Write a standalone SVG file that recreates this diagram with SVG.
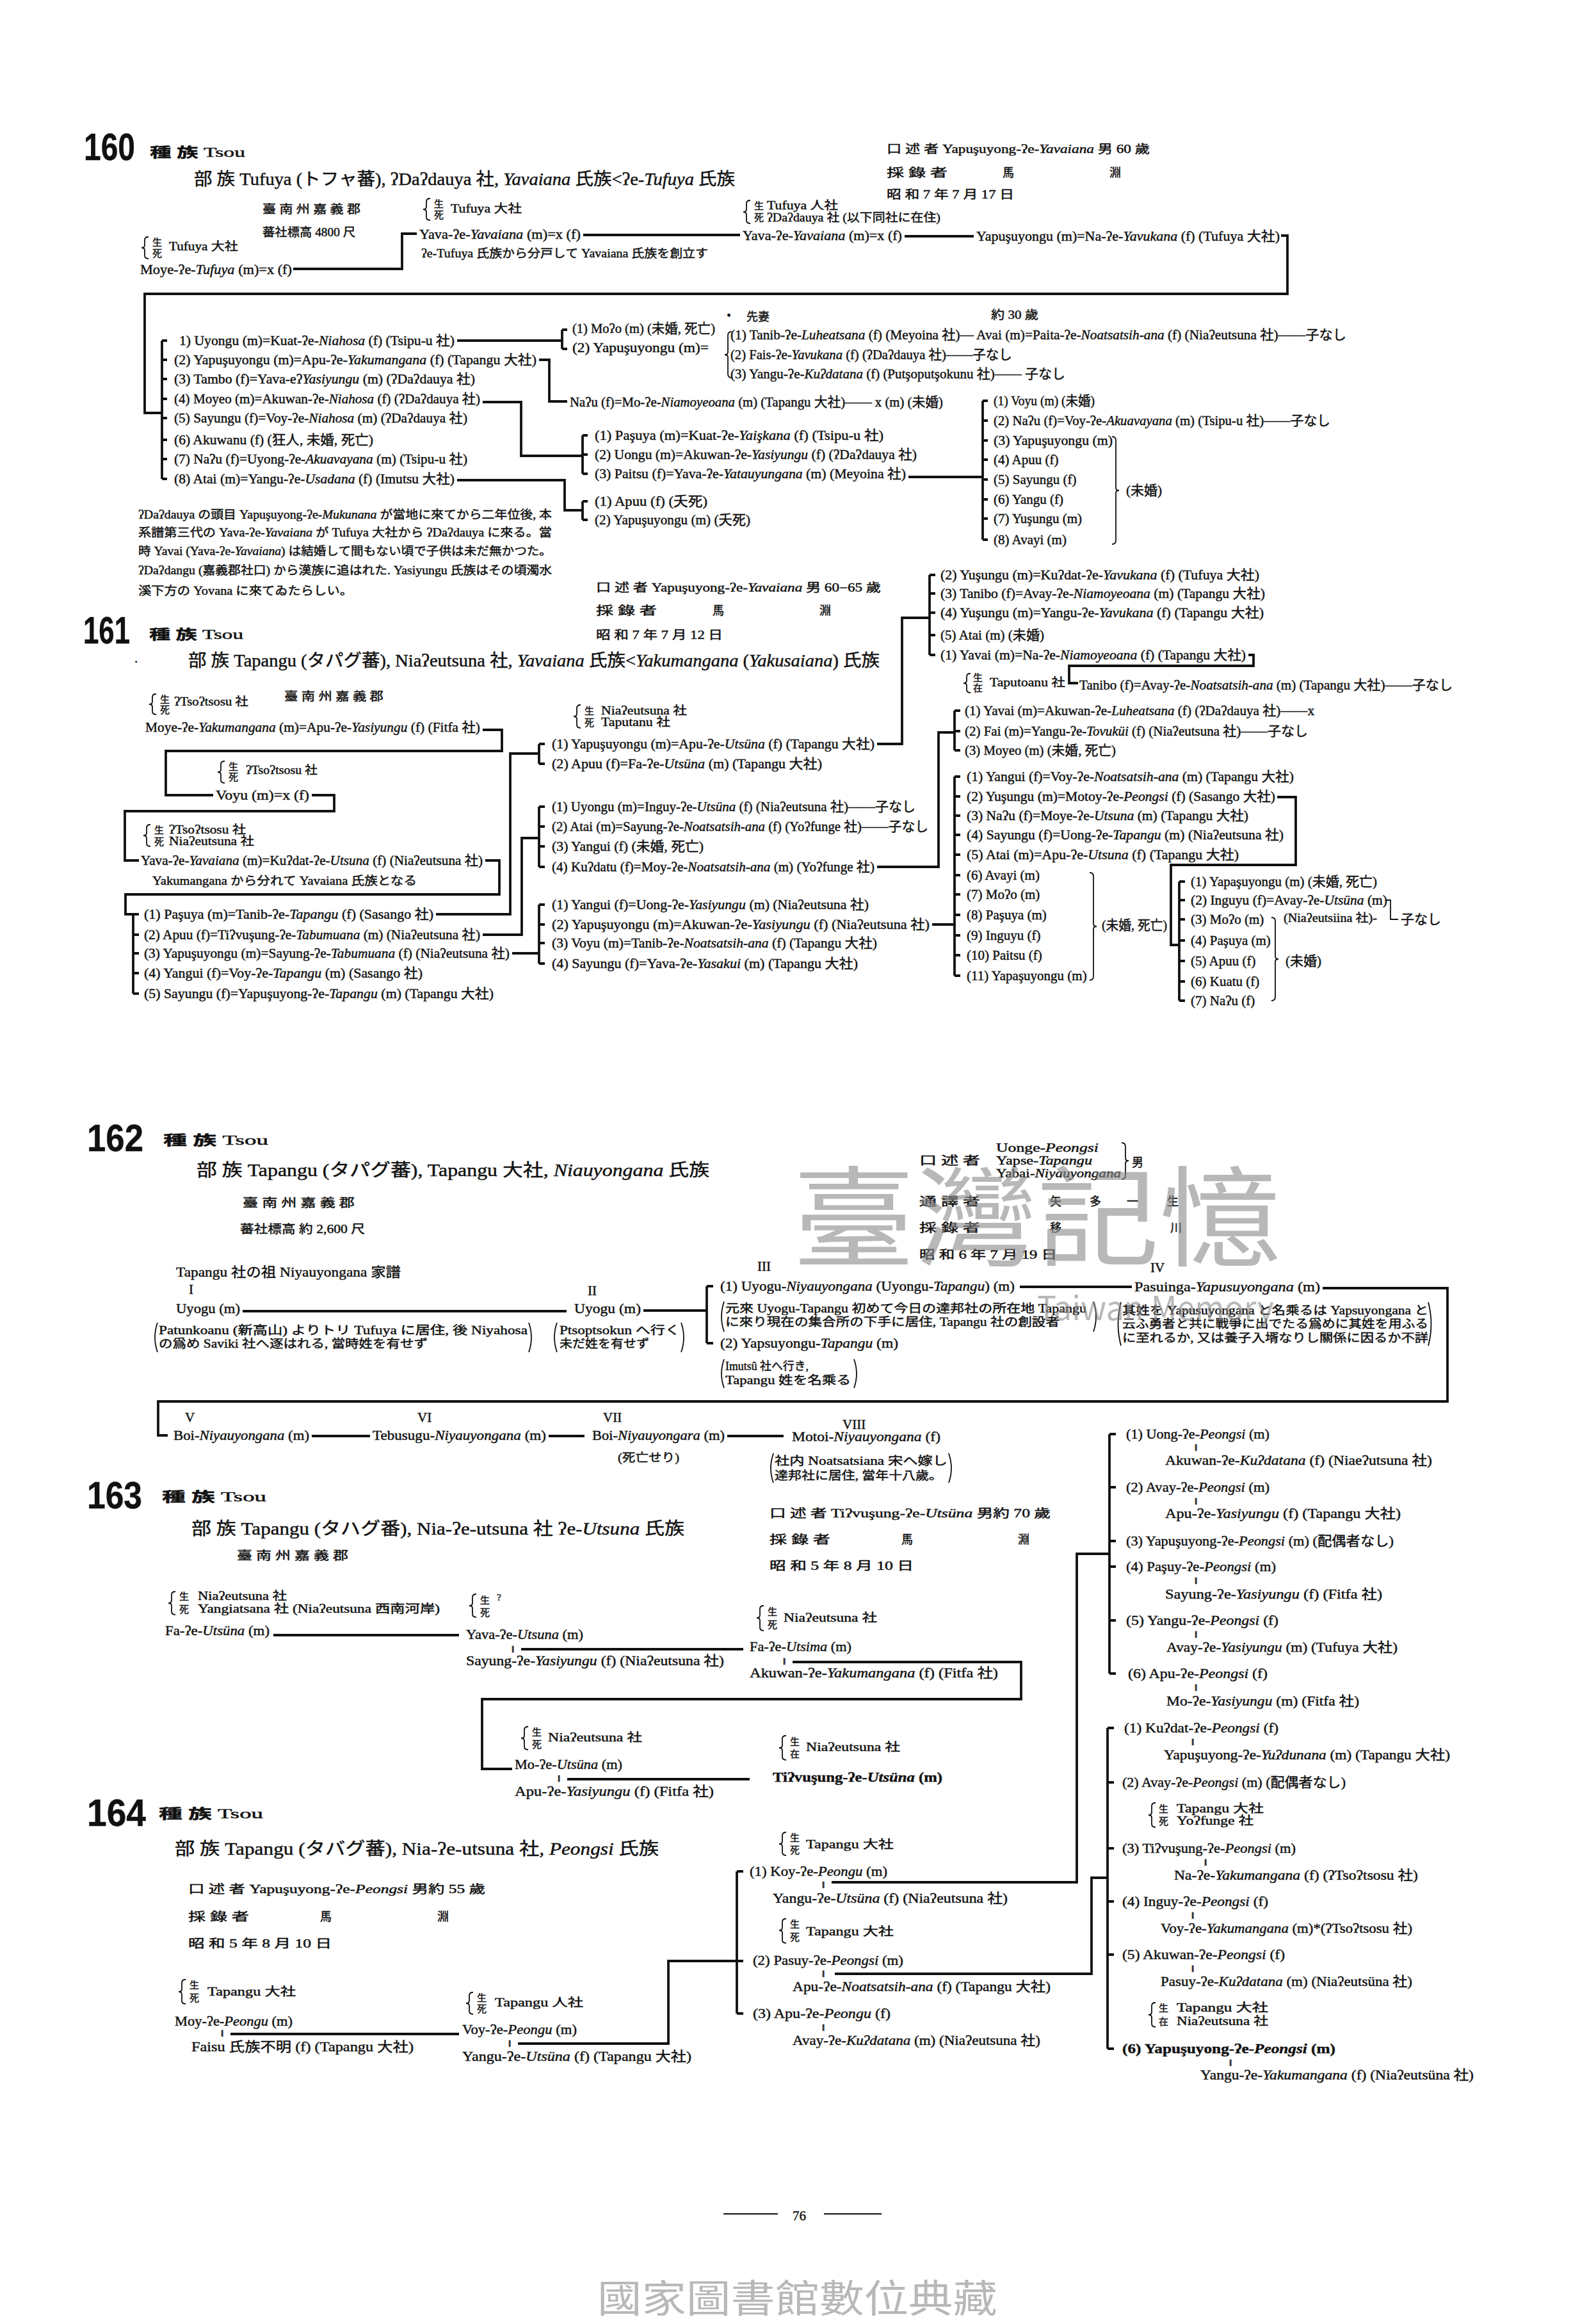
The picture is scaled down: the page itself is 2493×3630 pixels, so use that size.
<svg xmlns="http://www.w3.org/2000/svg" width="2493" height="3630" viewBox="0 0 2493 3630">
<style>
.t{font-family:"Liberation Serif","DejaVu Serif","Noto Sans CJK JP",serif;font-size:21px;fill:#111;stroke:#111;stroke-width:0.45px}
.s{font-size:18px}
.h{font-size:27px}
.k{font-size:15px}
.n{font-family:"Liberation Sans","DejaVu Sans",sans-serif;font-weight:bold;font-size:60px}
.i{font-style:italic}
.bd{font-weight:bold}
.l{fill:none;stroke:#111;stroke-width:3.8}
.b{fill:none;stroke:#111;stroke-width:1.8}
.wm{font-family:"Noto Sans CJK TC","Noto Sans CJK JP",sans-serif;fill:#8a8a8a;opacity:0.6}
</style>
<rect width="2493" height="3630" fill="#fff"/>

<!-- ============ 160 ============ -->
<g id="s160-title">
<text class="t n" x="131" y="250" textLength="80" lengthAdjust="spacingAndGlyphs">160</text>
<text class="t" x="234" y="245" textLength="149" lengthAdjust="spacingAndGlyphs"><tspan class="bd">種 族</tspan>  Tsou</text>
<text class="t h" x="303" y="289" textLength="845" lengthAdjust="spacingAndGlyphs">部 族  Tufuya (トフャ蕃), ʔDaʔdauya 社, <tspan class="i">Yavaiana</tspan> 氏族&lt;ʔe-<tspan class="i">Tufuya</tspan> 氏族</text>
<text class="t s" x="410" y="333" textLength="153" lengthAdjust="spacingAndGlyphs">臺 南 州 嘉 義 郡</text>
<text class="t s" x="410" y="369" textLength="145" lengthAdjust="spacingAndGlyphs">蕃社標高 4800 尺</text>
</g>
<g id="s160-info">
<text class="t s" x="1385" y="239" textLength="411" lengthAdjust="spacingAndGlyphs">口 述 者  Yapuşuyong-ʔe-<tspan class="i">Yavaiana</tspan>  男 60 歲</text>
<text class="t s" x="1385" y="276" textLength="95" lengthAdjust="spacingAndGlyphs">採 錄 者</text>
<text class="t s" x="1566" y="276">馬</text><text class="t s" x="1733" y="276">淵</text>
<text class="t s" x="1385" y="310" textLength="199" lengthAdjust="spacingAndGlyphs">昭 和 7 年 7 月 17 日</text>
</g>
<g id="n160-moye">
<path class="b" d="M232,370 Q226,370 226,375 V383 Q226,387 221,387 Q226,387 226,391 V399 Q226,404 232,404"/>
<text class="t k" x="238" y="384">生</text><text class="t k" x="238" y="401">死</text>
<text class="t s" x="264" y="391" textLength="108" lengthAdjust="spacingAndGlyphs">Tufuya 大社</text>
<text class="t" x="219" y="428" textLength="237" lengthAdjust="spacingAndGlyphs">Moye-ʔe-<tspan class="i">Tufuya</tspan> (m)=x (f)</text>
</g>
<g id="n160-yava1">
<path class="b" d="M672,310 Q666,310 666,315 V323 Q666,327 661,327 Q666,327 666,331 V339 Q666,344 672,344"/>
<text class="t k" x="678" y="324">生</text><text class="t k" x="678" y="341">死</text>
<text class="t s" x="704" y="332" textLength="111" lengthAdjust="spacingAndGlyphs">Tufuya 大社</text>
<text class="t" x="655" y="373" textLength="252" lengthAdjust="spacingAndGlyphs">Yava-ʔe-<tspan class="i">Yavaiana</tspan> (m)=x (f)</text>
<text class="t s" x="658" y="402" textLength="448" lengthAdjust="spacingAndGlyphs">ʔe-Tufuya 氏族から分戸して Yavaiana 氏族を創立す</text>
</g>
<g id="n160-yava2">
<path class="b" d="M1172,313 Q1166,313 1166,318 V327 Q1166,331 1161,331 Q1166,331 1166,335 V344 Q1166,349 1172,349"/>
<text class="t k" x="1178" y="327">生</text><text class="t k" x="1178" y="345">死</text>
<text class="t s" x="1198" y="327" textLength="111" lengthAdjust="spacingAndGlyphs">Tufuya 人社</text>
<text class="t s" x="1198" y="346" textLength="271" lengthAdjust="spacingAndGlyphs">ʔDaʔdauya 社 (以下同社に在住)</text>
<text class="t" x="1160" y="375" textLength="249" lengthAdjust="spacingAndGlyphs">Yava-ʔe-<tspan class="i">Yavaiana</tspan> (m)=x (f)</text>
</g>
<g id="n160-yapu">
<text class="t" x="1525" y="376" textLength="474" lengthAdjust="spacingAndGlyphs">Yapuşuyongu (m)=Na-ʔe-<tspan class="i">Yavukana</tspan> (f) (Tufuya 大社)</text>
</g>
<g id="n160-children">
<text class="t" x="280" y="539" textLength="430" lengthAdjust="spacingAndGlyphs">1) Uyongu (m)=Kuat-ʔe-<tspan class="i">Niahosa</tspan> (f) (Tsipu-u 社)</text>
<text class="t" x="272" y="569" textLength="566" lengthAdjust="spacingAndGlyphs">(2) Yapuşuyongu (m)=Apu-ʔe-<tspan class="i">Yakumangana</tspan> (f) (Tapangu 大社)</text>
<text class="t" x="272" y="599" textLength="470" lengthAdjust="spacingAndGlyphs">(3) Tambo (f)=Yava-eʔ<tspan class="i">Yasiyungu</tspan> (m) (ʔDaʔdauya 社)</text>
<text class="t" x="272" y="630" textLength="478" lengthAdjust="spacingAndGlyphs">(4) Moyeo (m)=Akuwan-ʔe-<tspan class="i">Niahosa</tspan> (f) (ʔDaʔdauya 社)</text>
<text class="t" x="272" y="660" textLength="458" lengthAdjust="spacingAndGlyphs">(5) Sayungu (f)=Voy-ʔe-<tspan class="i">Niahosa</tspan> (m) (ʔDaʔdauya 社)</text>
<text class="t" x="272" y="694" textLength="311" lengthAdjust="spacingAndGlyphs">(6) Akuwanu (f) (狂人, 未婚, 死亡)</text>
<text class="t" x="272" y="724" textLength="458" lengthAdjust="spacingAndGlyphs">(7) Naʔu (f)=Uyong-ʔe-<tspan class="i">Akuavayana</tspan> (m) (Tsipu-u 社)</text>
<text class="t" x="272" y="755" textLength="438" lengthAdjust="spacingAndGlyphs">(8) Atai (m)=Yangu-ʔe-<tspan class="i">Usadana</tspan> (f) (Imutsu 大社)</text>
</g>
<g id="n160-moo">
<text class="t" x="894" y="520" textLength="223" lengthAdjust="spacingAndGlyphs">(1) Moʔo (m) (未婚, 死亡)</text>
<text class="t" x="894" y="550" textLength="213" lengthAdjust="spacingAndGlyphs">(2) Yapuşuyongu (m)=</text>
<text class="t" x="1128" y="500">・</text>
<text class="t s" x="1166" y="501">先妻</text>
<text class="t s" x="1548" y="498" textLength="74" lengthAdjust="spacingAndGlyphs">約 30 歲</text>
<path class="b" d="M1143,518 Q1137,518 1137,524 V550 Q1137,554 1132,554 Q1137,554 1137,558 V584 Q1137,590 1143,590"/>
<text class="t" x="1141" y="530" textLength="962" lengthAdjust="spacingAndGlyphs">(1) Tanib-ʔe-<tspan class="i">Luheatsana</tspan> (f) (Meyoina 社)— Avai (m)=Paita-ʔe-<tspan class="i">Noatsatsih-ana</tspan> (f) (Niaʔeutsuna 社)——子なし</text>
<text class="t" x="1141" y="561" textLength="440" lengthAdjust="spacingAndGlyphs">(2) Fais-ʔe-<tspan class="i">Yavukana</tspan> (f) (ʔDaʔdauya 社)——子なし</text>
<text class="t" x="1141" y="591" textLength="523" lengthAdjust="spacingAndGlyphs">(3) Yangu-ʔe-<tspan class="i">Kuʔdatana</tspan> (f) (Putşoputşokunu 社)—— 子なし</text>
</g>
<g id="n160-nau">
<text class="t" x="890" y="635" textLength="583" lengthAdjust="spacingAndGlyphs">Naʔu (f)=Mo-ʔe-<tspan class="i">Niamoyeoana</tspan> (m) (Tapangu 大社)—— x (m) (未婚)</text>
</g>
<g id="n160-pasuya">
<text class="t" x="929" y="687" textLength="451" lengthAdjust="spacingAndGlyphs">(1) Paşuya (m)=Kuat-ʔe-<tspan class="i">Yaişkana</tspan> (f) (Tsipu-u 社)</text>
<text class="t" x="929" y="717" textLength="503" lengthAdjust="spacingAndGlyphs">(2) Uongu (m)=Akuwan-ʔe-<tspan class="i">Yasiyungu</tspan> (f) (ʔDaʔdauya 社)</text>
<text class="t" x="929" y="747" textLength="486" lengthAdjust="spacingAndGlyphs">(3) Paitsu (f)=Yava-ʔe-<tspan class="i">Yatauyungana</tspan> (m) (Meyoina 社)</text>
</g>
<g id="n160-apuu">
<text class="t" x="929" y="790" textLength="176" lengthAdjust="spacingAndGlyphs">(1) Apuu (f) (夭死)</text>
<text class="t" x="929" y="819" textLength="243" lengthAdjust="spacingAndGlyphs">(2) Yapuşuyongu (m) (夭死)</text>
</g>
<g id="n160-voyu">
<text class="t" x="1552" y="633" textLength="158" lengthAdjust="spacingAndGlyphs">(1) Voyu (m) (未婚)</text>
<text class="t" x="1552" y="664" textLength="526" lengthAdjust="spacingAndGlyphs">(2) Naʔu (f)=Voy-ʔe-<tspan class="i">Akuavayana</tspan> (m) (Tsipu-u 社)——子なし</text>
<text class="t" x="1552" y="695" textLength="186" lengthAdjust="spacingAndGlyphs">(3) Yapuşuyongu (m)</text>
<text class="t" x="1552" y="725">(4) Apuu (f)</text>
<text class="t" x="1552" y="756">(5) Sayungu (f)</text>
<text class="t" x="1552" y="787">(6) Yangu (f)</text>
<text class="t" x="1552" y="817">(7) Yuşungu (m)</text>
<text class="t" x="1552" y="850">(8) Avayi (m)</text>
<path class="b" d="M1737,682 Q1743,682 1743,688 V762 Q1743,766 1748,766 Q1743,766 1743,770 V844 Q1743,850 1737,850"/>
<text class="t" x="1759" y="773">(未婚)</text>
</g>
<g id="n160-note">
<text class="t s" x="216" y="810" textLength="646" lengthAdjust="spacingAndGlyphs">ʔDaʔdauya の頭目 Yapuşuyong-ʔe-<tspan class="i">Mukunana</tspan> が當地に來てから二年位後, 本</text>
<text class="t s" x="216" y="838" textLength="646" lengthAdjust="spacingAndGlyphs">系譜第三代の Yava-ʔe-<tspan class="i">Yavaiana</tspan> が Tufuya 大社から ʔDaʔdauya に來る。當</text>
<text class="t s" x="216" y="867" textLength="646" lengthAdjust="spacingAndGlyphs">時 Yavai (Yava-ʔe-<tspan class="i">Yavaiana</tspan>) は結婚して間もない頃で子供は未だ無かつた。</text>
<text class="t s" x="216" y="897" textLength="646" lengthAdjust="spacingAndGlyphs">ʔDaʔdangu (嘉義郡社口) から漢族に追はれた. Yasiyungu 氏族はその頃濁水</text>
<text class="t s" x="216" y="929" textLength="335" lengthAdjust="spacingAndGlyphs">溪下方の Yovana に來てゐたらしい。</text>
</g>

<!-- ============ 161 ============ -->
<g id="s161-info">
<text class="t s" x="931" y="924" textLength="445" lengthAdjust="spacingAndGlyphs">口 述 者  Yapuşuyong-ʔe-<tspan class="i">Yavaiana</tspan>  男 60−65 歲</text>
<text class="t s" x="931" y="960" textLength="95" lengthAdjust="spacingAndGlyphs">採 錄 者</text>
<text class="t s" x="1113" y="960">馬</text><text class="t s" x="1280" y="960">淵</text>
<text class="t s" x="931" y="998" textLength="198" lengthAdjust="spacingAndGlyphs">昭 和 7 年 7 月 12 日</text>
</g>
<g id="s161-title">
<text class="t n" x="130" y="1005" textLength="73" lengthAdjust="spacingAndGlyphs">161</text>
<text class="t" x="233" y="998" textLength="147" lengthAdjust="spacingAndGlyphs"><tspan class="bd">種 族</tspan>  Tsou</text>
<text class="t" x="210" y="1035">.</text>
<text class="t h" x="294" y="1041" textLength="1080" lengthAdjust="spacingAndGlyphs">部 族  Tapangu (タパグ蕃), Niaʔeutsuna 社, <tspan class="i">Yavaiana</tspan> 氏族&lt;<tspan class="i">Yakumangana</tspan> (<tspan class="i">Yakusaiana</tspan>) 氏族</text>
<text class="t s" x="444" y="1094" textLength="155" lengthAdjust="spacingAndGlyphs">臺 南 州 嘉 義 郡</text>
</g>
<g id="n161-moye">
<path class="b" d="M244,1084 Q238,1084 238,1089 V1096 Q238,1100 233,1100 Q238,1100 238,1104 V1111 Q238,1116 244,1116"/>
<text class="t k" x="250" y="1098">生</text><text class="t k" x="250" y="1114">死</text>
<text class="t s" x="272" y="1102" textLength="116" lengthAdjust="spacingAndGlyphs">ʔTsoʔtsosu 社</text>
<text class="t" x="227" y="1143" textLength="523" lengthAdjust="spacingAndGlyphs">Moye-ʔe-<tspan class="i">Yakumangana</tspan> (m)=Apu-ʔe-<tspan class="i">Yasiyungu</tspan> (f) (Fitfa 社)</text>
</g>
<g id="n161-voyu">
<path class="b" d="M351,1189 Q345,1189 345,1194 V1202 Q345,1206 340,1206 Q345,1206 345,1210 V1218 Q345,1223 351,1223"/>
<text class="t k" x="357" y="1203">生</text><text class="t k" x="357" y="1219">死</text>
<text class="t s" x="384" y="1209" textLength="112" lengthAdjust="spacingAndGlyphs">ʔTsoʔtsosu 社</text>
<text class="t" x="337" y="1249" textLength="146" lengthAdjust="spacingAndGlyphs">Voyu (m)=x (f)</text>
</g>
<g id="n161-yava">
<path class="b" d="M235,1288 Q229,1288 229,1293 V1301 Q229,1305 224,1305 Q229,1305 229,1309 V1317 Q229,1322 235,1322"/>
<text class="t k" x="241" y="1302">生</text><text class="t k" x="241" y="1320">死</text>
<text class="t s" x="264" y="1302" textLength="120" lengthAdjust="spacingAndGlyphs">ʔTsoʔtsosu 社</text>
<text class="t s" x="264" y="1320" textLength="133" lengthAdjust="spacingAndGlyphs">Niaʔeutsuna 社</text>
<text class="t" x="220" y="1351" textLength="534" lengthAdjust="spacingAndGlyphs">Yava-ʔe-<tspan class="i">Yavaiana</tspan> (m)=Kuʔdat-ʔe-<tspan class="i">Utsuna</tspan> (f) (Niaʔeutsuna 社)</text>
<text class="t s" x="238" y="1382" textLength="413" lengthAdjust="spacingAndGlyphs">Yakumangana から分れて Yavaiana 氏族となる</text>
</g>
<g id="n161-children">
<text class="t" x="225" y="1435" textLength="452" lengthAdjust="spacingAndGlyphs">(1) Paşuya (m)=Tanib-ʔe-<tspan class="i">Tapangu</tspan> (f) (Sasango 社)</text>
<text class="t" x="225" y="1467" textLength="525" lengthAdjust="spacingAndGlyphs">(2) Apuu (f)=Tiʔvuşung-ʔe-<tspan class="i">Tabumuana</tspan> (m) (Niaʔeutsuna 社)</text>
<text class="t" x="225" y="1496" textLength="571" lengthAdjust="spacingAndGlyphs">(3) Yapuşuyongu (m)=Sayung-ʔe-<tspan class="i">Tabumuana</tspan> (f) (Niaʔeutsuna 社)</text>
<text class="t" x="225" y="1527" textLength="435" lengthAdjust="spacingAndGlyphs">(4) Yangui (f)=Voy-ʔe-<tspan class="i">Tapangu</tspan> (m) (Sasango 社)</text>
<text class="t" x="225" y="1559" textLength="546" lengthAdjust="spacingAndGlyphs">(5) Sayungu (f)=Yapuşuyong-ʔe-<tspan class="i">Tapangu</tspan> (m) (Tapangu 大社)</text>
</g>
<g id="n161-yapu">
<path class="b" d="M907,1101 Q901,1101 901,1106 V1115 Q901,1119 896,1119 Q901,1119 901,1123 V1132 Q901,1137 907,1137"/>
<text class="t k" x="913" y="1116">生</text><text class="t k" x="913" y="1134">死</text>
<text class="t s" x="939" y="1116" textLength="134" lengthAdjust="spacingAndGlyphs">Niaʔeutsuna 社</text>
<text class="t s" x="939" y="1134" textLength="108" lengthAdjust="spacingAndGlyphs">Taputanu 社</text>
<text class="t" x="862" y="1169" textLength="504" lengthAdjust="spacingAndGlyphs">(1) Yapuşuyongu (m)=Apu-ʔe-<tspan class="i">Utsüna</tspan> (f) (Tapangu 大社)</text>
<text class="t" x="862" y="1200" textLength="422" lengthAdjust="spacingAndGlyphs">(2) Apuu (f)=Fa-ʔe-<tspan class="i">Utsüna</tspan> (m) (Tapangu 大社)</text>
</g>
<g id="n161-uyongu">
<text class="t" x="862" y="1267" textLength="568" lengthAdjust="spacingAndGlyphs">(1) Uyongu (m)=Inguy-ʔe-<tspan class="i">Utsüna</tspan> (f) (Niaʔeutsuna 社)——子なし</text>
<text class="t" x="862" y="1298" textLength="588" lengthAdjust="spacingAndGlyphs">(2) Atai (m)=Sayung-ʔe-<tspan class="i">Noatsatsih-ana</tspan> (f) (Yoʔfunge 社)——子なし</text>
<text class="t" x="862" y="1329" textLength="237" lengthAdjust="spacingAndGlyphs">(3) Yangui (f) (未婚, 死亡)</text>
<text class="t" x="862" y="1361" textLength="504" lengthAdjust="spacingAndGlyphs">(4) Kuʔdatu (f)=Moy-ʔe-<tspan class="i">Noatsatsih-ana</tspan> (m) (Yoʔfunge 社)</text>
</g>
<g id="n161-yangu">
<text class="t" x="862" y="1420" textLength="495" lengthAdjust="spacingAndGlyphs">(1) Yangui (f)=Uong-ʔe-<tspan class="i">Yasiyungu</tspan> (m) (Niaʔeutsuna 社)</text>
<text class="t" x="862" y="1451" textLength="590" lengthAdjust="spacingAndGlyphs">(2) Yapuşuyongu (m)=Akuwan-ʔe-<tspan class="i">Yasiyungu</tspan> (f) (Niaʔeutsuna 社)</text>
<text class="t" x="862" y="1480" textLength="508" lengthAdjust="spacingAndGlyphs">(3) Voyu (m)=Tanib-ʔe-<tspan class="i">Noatsatsih-ana</tspan> (f) (Tapangu 大社)</text>
<text class="t" x="862" y="1512" textLength="478" lengthAdjust="spacingAndGlyphs">(4) Sayungu (f)=Yava-ʔe-<tspan class="i">Yasakui</tspan> (m) (Tapangu 大社)</text>
</g>
<g id="n161-yusungu">
<text class="t" x="1469" y="905" textLength="498" lengthAdjust="spacingAndGlyphs">(2) Yuşungu (m)=Kuʔdat-ʔe-<tspan class="i">Yavukana</tspan> (f) (Tufuya 大社)</text>
<text class="t" x="1469" y="934" textLength="507" lengthAdjust="spacingAndGlyphs">(3) Tanibo (f)=Avay-ʔe-<tspan class="i">Niamoyeoana</tspan> (m) (Tapangu 大社)</text>
<text class="t" x="1469" y="964" textLength="505" lengthAdjust="spacingAndGlyphs">(4) Yuşungu (m)=Yangu-ʔe-<tspan class="i">Yavukana</tspan> (f) (Tapangu 大社)</text>
<text class="t" x="1469" y="999" textLength="162" lengthAdjust="spacingAndGlyphs">(5) Atai (m) (未婚)</text>
<text class="t" x="1469" y="1030" textLength="477" lengthAdjust="spacingAndGlyphs">(1) Yavai (m)=Na-ʔe-<tspan class="i">Niamoyeoana</tspan> (f) (Tapangu 大社)</text>
</g>
<g id="n161-tanibo">
<path class="b" d="M1516,1052 Q1510,1052 1510,1057 V1063 Q1510,1067 1505,1067 Q1510,1067 1510,1071 V1077 Q1510,1082 1516,1082"/>
<text class="t k" x="1520" y="1064">生</text><text class="t k" x="1520" y="1080">在</text>
<text class="t s" x="1546" y="1072" textLength="118" lengthAdjust="spacingAndGlyphs">Taputoanu 社</text>
<text class="t" x="1686" y="1077" textLength="583" lengthAdjust="spacingAndGlyphs">Tanibo (f)=Avay-ʔe-<tspan class="i">Noatsatsih-ana</tspan> (m) (Tapangu 大社)——子なし</text>
</g>
<g id="n161-yavai">
<text class="t" x="1507" y="1117" textLength="546" lengthAdjust="spacingAndGlyphs">(1) Yavai (m)=Akuwan-ʔe-<tspan class="i">Luheatsana</tspan> (f) (ʔDaʔdauya 社)——x</text>
<text class="t" x="1507" y="1149" textLength="536" lengthAdjust="spacingAndGlyphs">(2) Fai (m)=Yangu-ʔe-<tspan class="i">Tovuküi</tspan> (f) (Niaʔeutsuna 社)——子なし</text>
<text class="t" x="1507" y="1179" textLength="236" lengthAdjust="spacingAndGlyphs">(3) Moyeo (m) (未婚, 死亡)</text>
</g>
<g id="n161-eleven">
<text class="t" x="1510" y="1220" textLength="511" lengthAdjust="spacingAndGlyphs">(1) Yangui (f)=Voy-ʔe-<tspan class="i">Noatsatsih-ana</tspan> (m) (Tapangu 大社)</text>
<text class="t" x="1510" y="1251" textLength="482" lengthAdjust="spacingAndGlyphs">(2) Yuşungu (m)=Motoy-ʔe-<tspan class="i">Peongsi</tspan> (f) (Sasango 大社)</text>
<text class="t" x="1510" y="1281" textLength="440" lengthAdjust="spacingAndGlyphs">(3) Naʔu (f)=Moye-ʔe-<tspan class="i">Utsuna</tspan> (m) (Tapangu 大社)</text>
<text class="t" x="1510" y="1311" textLength="495" lengthAdjust="spacingAndGlyphs">(4) Sayungu (f)=Uong-ʔe-<tspan class="i">Tapangu</tspan> (m) (Niaʔeutsuna 社)</text>
<text class="t" x="1510" y="1342" textLength="425" lengthAdjust="spacingAndGlyphs">(5) Atai (m)=Apu-ʔe-<tspan class="i">Utsuna</tspan> (f) (Tapangu 大社)</text>
<text class="t" x="1510" y="1374">(6) Avayi (m)</text>
<text class="t" x="1510" y="1404">(7) Moʔo (m)</text>
<text class="t" x="1510" y="1436">(8) Paşuya (m)</text>
<text class="t" x="1510" y="1468">(9) Inguyu (f)</text>
<text class="t" x="1510" y="1499">(10) Paitsu (f)</text>
<text class="t" x="1510" y="1531">(11) Yapaşuyongu (m)</text>
<path class="b" d="M1702,1363 Q1708,1363 1708,1369 V1443 Q1708,1447 1713,1447 Q1708,1447 1708,1451 V1525 Q1708,1531 1702,1531"/>
<text class="t" x="1721" y="1452" textLength="102" lengthAdjust="spacingAndGlyphs">(未婚, 死亡)</text>
</g>
<g id="n161-yapa">
<text class="t" x="1860" y="1384" textLength="291" lengthAdjust="spacingAndGlyphs">(1) Yapaşuyongu (m) (未婚, 死亡)</text>
<text class="t" x="1860" y="1413" textLength="307" lengthAdjust="spacingAndGlyphs">(2) Inguyu (f)=Avay-ʔe-<tspan class="i">Utsüna</tspan> (m)</text>
<text class="t s" x="2005" y="1440" textLength="146" lengthAdjust="spacingAndGlyphs">(Niaʔeutsiina 社)-</text>
<text class="t" x="2188" y="1443">子なし</text>
<text class="t" x="1860" y="1443">(3) Moʔo (m)</text>
<text class="t" x="1860" y="1476">(4) Paşuya (m)</text>
<text class="t" x="1860" y="1508">(5) Apuu (f)</text>
<text class="t" x="1860" y="1540">(6) Kuatu (f)</text>
<text class="t" x="1860" y="1570">(7) Naʔu (f)</text>
<path class="b" d="M1986,1433 Q1992,1433 1992,1439 V1494 Q1992,1498 1997,1498 Q1992,1498 1992,1502 V1557 Q1992,1563 1986,1563"/>
<text class="t" x="2008" y="1508">(未婚)</text>
</g>

<!-- ============ 162 ============ -->
<g id="s162-title">
<text class="t n" x="136" y="1798" textLength="88" lengthAdjust="spacingAndGlyphs">162</text>
<text class="t" x="255" y="1788" textLength="164" lengthAdjust="spacingAndGlyphs"><tspan class="bd">種 族</tspan>  Tsou</text>
<text class="t h" x="307" y="1837" textLength="801" lengthAdjust="spacingAndGlyphs">部 族  Tapangu (タパグ蕃), Tapangu 大社, <tspan class="i">Niauyongana</tspan> 氏族</text>
<text class="t s" x="379" y="1885" textLength="175" lengthAdjust="spacingAndGlyphs">臺 南 州 嘉 義 郡</text>
<text class="t s" x="375" y="1926" textLength="195" lengthAdjust="spacingAndGlyphs">蕃社標高 約 2,600 尺</text>
<text class="t" x="275" y="1994" textLength="351" lengthAdjust="spacingAndGlyphs">Tapangu 社の祖 Niyauyongana 家譜</text>
</g>
<g id="s162-info">
<text class="t s" x="1436" y="1819" textLength="95" lengthAdjust="spacingAndGlyphs">口 述 者</text>
<text class="t s" x="1556" y="1799" textLength="160" lengthAdjust="spacingAndGlyphs">Uonge-<tspan class="i">Peongsi</tspan></text>
<text class="t s" x="1556" y="1819" textLength="150" lengthAdjust="spacingAndGlyphs">Yapse-<tspan class="i">Tapangu</tspan></text>
<text class="t s" x="1556" y="1839" textLength="195" lengthAdjust="spacingAndGlyphs">Yabai-<tspan class="i">Niyauyongana</tspan></text>
<path class="b" d="M1752,1785 Q1758,1785 1758,1791 V1809 Q1758,1813 1763,1813 Q1758,1813 1758,1817 V1836 Q1758,1842 1752,1842"/>
<text class="t s" x="1768" y="1822">男</text>
<text class="t s" x="1436" y="1883" textLength="95" lengthAdjust="spacingAndGlyphs">通 譯 者</text>
<text class="t s" x="1640" y="1883">矢</text><text class="t s" x="1702" y="1883">多</text><text class="t s" x="1760" y="1883">一</text><text class="t s" x="1823" y="1883">生</text>
<text class="t s" x="1436" y="1924" textLength="95" lengthAdjust="spacingAndGlyphs">採 錄 者</text>
<text class="t s" x="1640" y="1924">移</text><text class="t s" x="1828" y="1924">川</text>
<text class="t s" x="1436" y="1966" textLength="215" lengthAdjust="spacingAndGlyphs">昭 和 6 年 7 月 19 日</text>
</g>
<g id="n162-I">
<text class="t" x="295" y="2021">I</text>
<text class="t" x="275" y="2051" textLength="100" lengthAdjust="spacingAndGlyphs">Uyogu (m)</text>
<path class="b" d="M246,2066 Q238,2089 246,2112 M826,2066 Q834,2089 826,2112"/>
<text class="t s" x="248" y="2084" textLength="576" lengthAdjust="spacingAndGlyphs">Patunkoanu (新高山) よりトリ Tufuya に居住, 後 Niyahosa</text>
<text class="t s" x="248" y="2105" textLength="420" lengthAdjust="spacingAndGlyphs">の爲め Saviki 社へ逐はれる, 當時姓を有せず</text>
</g>
<g id="n162-II">
<text class="t" x="918" y="2023">II</text>
<text class="t" x="897" y="2051" textLength="104" lengthAdjust="spacingAndGlyphs">Uyogu (m)</text>
<path class="b" d="M870,2066 Q862,2089 870,2112 M1064,2066 Q1072,2089 1064,2112"/>
<text class="t s" x="874" y="2084" textLength="188" lengthAdjust="spacingAndGlyphs">Ptsoptsokun へ行く</text>
<text class="t s" x="874" y="2105" textLength="140" lengthAdjust="spacingAndGlyphs">未だ姓を有せず</text>
</g>
<g id="n162-III">
<text class="t" x="1183" y="1985">III</text>
<text class="t" x="1125" y="2016" textLength="460" lengthAdjust="spacingAndGlyphs">(1) Uyogu-<tspan class="i">Niyauyongana</tspan> (Uyongu-<tspan class="i">Tapangu</tspan>) (m)</text>
<path class="b" d="M1131,2033 Q1123,2057 1131,2080 M1708,2033 Q1716,2057 1708,2080"/>
<text class="t s" x="1133" y="2050" textLength="564" lengthAdjust="spacingAndGlyphs">元來 Uyogu-Tapangu 初めて今日の達邦社の所在地 Tapangu</text>
<text class="t s" x="1133" y="2071" textLength="522" lengthAdjust="spacingAndGlyphs">に來り現在の集合所の下手に居住, Tapangu 社の創設者</text>
<text class="t" x="1125" y="2105" textLength="278" lengthAdjust="spacingAndGlyphs">(2) Yapsuyongu-<tspan class="i">Tapangu</tspan> (m)</text>
<path class="b" d="M1131,2123 Q1123,2146 1131,2168 M1334,2123 Q1342,2146 1334,2168"/>
<text class="t s" x="1133" y="2140" textLength="130" lengthAdjust="spacingAndGlyphs">Imutsû 社へ行き,</text>
<text class="t s" x="1133" y="2162" textLength="196" lengthAdjust="spacingAndGlyphs">Tapangu 姓を名乘る</text>
</g>
<g id="n162-IV">
<text class="t" x="1797" y="1987">IV</text>
<text class="t" x="1772" y="2017" textLength="290" lengthAdjust="spacingAndGlyphs">Pasuinga-<tspan class="i">Yapusuyongana</tspan> (m)</text>
<path class="b" d="M1751,2034 Q1742,2068 1751,2102 M2231,2034 Q2240,2068 2231,2102"/>
<text class="t s" x="1753" y="2053" textLength="478" lengthAdjust="spacingAndGlyphs">其姓を Yapusuyongana と名乘るは Yapsuyongana と</text>
<text class="t s" x="1753" y="2074" textLength="478" lengthAdjust="spacingAndGlyphs">云ふ勇者と共に戰爭に出でたる爲めに其姓を用ふる</text>
<text class="t s" x="1753" y="2096" textLength="478" lengthAdjust="spacingAndGlyphs">に至れるか, 又は養子入壻なりし關係に因るか不詳</text>
</g>
<g id="n162-V">
<text class="t" x="289" y="2221">V</text>
<text class="t" x="271" y="2249" textLength="212" lengthAdjust="spacingAndGlyphs">Boi-<tspan class="i">Niyauyongana</tspan> (m)</text>
</g>
<g id="n162-VI">
<text class="t" x="652" y="2221">VI</text>
<text class="t" x="582" y="2249" textLength="271" lengthAdjust="spacingAndGlyphs">Tebusugu-<tspan class="i">Niyauyongana</tspan> (m)</text>
</g>
<g id="n162-VII">
<text class="t" x="942" y="2221">VII</text>
<text class="t" x="925" y="2249" textLength="207" lengthAdjust="spacingAndGlyphs">Boi-<tspan class="i">Niyauyongara</tspan> (m)</text>
<text class="t s" x="965" y="2283" textLength="96" lengthAdjust="spacingAndGlyphs">(死亡せり)</text>
</g>
<g id="n162-VIII">
<text class="t" x="1316" y="2232">VIII</text>
<text class="t" x="1237" y="2251" textLength="232" lengthAdjust="spacingAndGlyphs">Motoi-<tspan class="i">Niyauyongana</tspan> (f)</text>
<path class="b" d="M1208,2270 Q1200,2293 1208,2316 M1482,2270 Q1490,2293 1482,2316"/>
<text class="t s" x="1210" y="2288" textLength="270" lengthAdjust="spacingAndGlyphs">社内 Noatsatsiana 宋へ嫁し</text>
<text class="t s" x="1210" y="2311" textLength="262" lengthAdjust="spacingAndGlyphs">達邦社に居住, 當年十八歲。</text>
</g>

<!-- ============ 163 ============ -->
<g id="s163-title">
<text class="t n" x="136" y="2356" textLength="86" lengthAdjust="spacingAndGlyphs">163</text>
<text class="t" x="253" y="2345" textLength="163" lengthAdjust="spacingAndGlyphs"><tspan class="bd">種 族</tspan>  Tsou</text>
<text class="t h" x="299" y="2397" textLength="770" lengthAdjust="spacingAndGlyphs">部 族  Tapangu (タハグ番), Nia-ʔe-utsuna 社 ʔe-<tspan class="i">Utsuna</tspan> 氏族</text>
<text class="t s" x="370" y="2436" textLength="174" lengthAdjust="spacingAndGlyphs">臺 南 州 嘉 義 郡</text>
</g>
<g id="s163-info">
<text class="t s" x="1202" y="2370" textLength="439" lengthAdjust="spacingAndGlyphs">口 述 者  Tiʔvuşung-ʔe-<tspan class="i">Utsüna</tspan>  男約 70 歲</text>
<text class="t s" x="1202" y="2411" textLength="95" lengthAdjust="spacingAndGlyphs">採 錄 者</text>
<text class="t s" x="1408" y="2411">馬</text><text class="t s" x="1590" y="2411">淵</text>
<text class="t s" x="1202" y="2452" textLength="225" lengthAdjust="spacingAndGlyphs">昭 和 5 年 8 月 10 日</text>
</g>
<g id="n163-fa1">
<path class="b" d="M274,2486 Q268,2486 268,2491 V2500 Q268,2504 263,2504 Q268,2504 268,2508 V2517 Q268,2522 274,2522"/>
<text class="t k" x="280" y="2499">生</text><text class="t k" x="280" y="2519">死</text>
<text class="t s" x="309" y="2499" textLength="139" lengthAdjust="spacingAndGlyphs">Niaʔeutsuna 社</text>
<text class="t s" x="309" y="2519" textLength="378" lengthAdjust="spacingAndGlyphs">Yangiatsana 社 (Niaʔeutsuna 西南河岸)</text>
<text class="t" x="258" y="2554" textLength="163" lengthAdjust="spacingAndGlyphs">Fa-ʔe-<tspan class="i">Utsüna</tspan> (m)</text>
</g>
<g id="n163-yava">
<path class="b" d="M744,2490 Q738,2490 738,2495 V2504 Q738,2508 733,2508 Q738,2508 738,2512 V2521 Q738,2526 744,2526"/>
<text class="t k" x="750" y="2505">生</text><text class="t k" x="750" y="2524">死</text>
<text class="t k" x="776" y="2500">?</text>
<text class="t" x="728" y="2560" textLength="183" lengthAdjust="spacingAndGlyphs">Yava-ʔe-<tspan class="i">Utsuna</tspan> (m)</text>
<text class="t k" x="799" y="2581">‖</text>
<text class="t" x="728" y="2601" textLength="403" lengthAdjust="spacingAndGlyphs">Sayung-ʔe-<tspan class="i">Yasiyungu</tspan> (f) (Niaʔeutsuna 社)</text>
</g>
<g id="n163-fa2">
<path class="b" d="M1193,2508 Q1187,2508 1187,2513 V2523 Q1187,2527 1182,2527 Q1187,2527 1187,2531 V2542 Q1187,2547 1193,2547"/>
<text class="t k" x="1199" y="2523">生</text><text class="t k" x="1199" y="2543">死</text>
<text class="t s" x="1224" y="2533" textLength="146" lengthAdjust="spacingAndGlyphs">Niaʔeutsuna 社</text>
<text class="t" x="1171" y="2579" textLength="159" lengthAdjust="spacingAndGlyphs">Fa-ʔe-<tspan class="i">Utsima</tspan> (m)</text>
<text class="t k" x="1223" y="2600">‖</text>
<text class="t" x="1171" y="2620" textLength="388" lengthAdjust="spacingAndGlyphs">Akuwan-ʔe-<tspan class="i">Yakumangana</tspan> (f) (Fitfa 社)</text>
</g>
<g id="n163-mo">
<path class="b" d="M825,2697 Q819,2697 819,2702 V2711 Q819,2715 814,2715 Q819,2715 819,2719 V2728 Q819,2733 825,2733"/>
<text class="t k" x="831" y="2711">生</text><text class="t k" x="831" y="2730">死</text>
<text class="t s" x="856" y="2720" textLength="147" lengthAdjust="spacingAndGlyphs">Niaʔeutsuna 社</text>
<text class="t" x="804" y="2763" textLength="168" lengthAdjust="spacingAndGlyphs">Mo-ʔe-<tspan class="i">Utsüna</tspan> (m)</text>
<text class="t k" x="871" y="2783">‖</text>
<text class="t" x="804" y="2805" textLength="311" lengthAdjust="spacingAndGlyphs">Apu-ʔe-<tspan class="i">Yasiyungu</tspan> (f) (Fitfa 社)</text>
</g>
<g id="n163-tivusung">
<path class="b" d="M1228,2711 Q1222,2711 1222,2716 V2726 Q1222,2730 1217,2730 Q1222,2730 1222,2734 V2744 Q1222,2749 1228,2749"/>
<text class="t k" x="1234" y="2726">生</text><text class="t k" x="1234" y="2745">在</text>
<text class="t s" x="1259" y="2735" textLength="147" lengthAdjust="spacingAndGlyphs">Niaʔeutsuna 社</text>
<text class="t bd" x="1207" y="2783" textLength="265" lengthAdjust="spacingAndGlyphs">Tiʔvuşung-ʔe-<tspan class="i">Utsüna</tspan> (m)</text>
</g>
<g id="n163-peongsi1">
<text class="t" x="1759" y="2247" textLength="224" lengthAdjust="spacingAndGlyphs">(1) Uong-ʔe-<tspan class="i">Peongsi</tspan> (m)</text>
<text class="t k" x="1866" y="2266">‖</text>
<text class="t" x="1820" y="2288" textLength="417" lengthAdjust="spacingAndGlyphs">Akuwan-ʔe-<tspan class="i">Kuʔdatana</tspan> (f) (Niaeʔutsuna 社)</text>
<text class="t" x="1759" y="2330" textLength="224" lengthAdjust="spacingAndGlyphs">(2) Avay-ʔe-<tspan class="i">Peongsi</tspan> (m)</text>
<text class="t k" x="1866" y="2350">‖</text>
<text class="t" x="1820" y="2371" textLength="368" lengthAdjust="spacingAndGlyphs">Apu-ʔe-<tspan class="i">Yasiyungu</tspan> (f) (Tapangu 大社)</text>
<text class="t" x="1759" y="2414" textLength="418" lengthAdjust="spacingAndGlyphs">(3) Yapuşuyong-ʔe-<tspan class="i">Peongsi</tspan> (m) (配偶者なし)</text>
<text class="t" x="1759" y="2454" textLength="234" lengthAdjust="spacingAndGlyphs">(4) Paşuy-ʔe-<tspan class="i">Peongsi</tspan> (m)</text>
<text class="t k" x="1866" y="2474">‖</text>
<text class="t" x="1820" y="2497" textLength="339" lengthAdjust="spacingAndGlyphs">Sayung-ʔe-<tspan class="i">Yasiyungu</tspan> (f) (Fitfa 社)</text>
<text class="t" x="1759" y="2538" textLength="238" lengthAdjust="spacingAndGlyphs">(5) Yangu-ʔe-<tspan class="i">Peongsi</tspan> (f)</text>
<text class="t k" x="1866" y="2558">‖</text>
<text class="t" x="1822" y="2580" textLength="361" lengthAdjust="spacingAndGlyphs">Avay-ʔe-<tspan class="i">Yasiyungu</tspan> (m) (Tufuya 大社)</text>
<text class="t" x="1762" y="2621" textLength="218" lengthAdjust="spacingAndGlyphs">(6) Apu-ʔe-<tspan class="i">Peongsi</tspan> (f)</text>
<text class="t k" x="1866" y="2641">‖</text>
<text class="t" x="1822" y="2664" textLength="301" lengthAdjust="spacingAndGlyphs">Mo-ʔe-<tspan class="i">Yasiyungu</tspan> (m) (Fitfa 社)</text>
</g>

<!-- ============ 164 ============ -->
<g id="s164-title">
<text class="t n" x="136" y="2852" textLength="92" lengthAdjust="spacingAndGlyphs">164</text>
<text class="t" x="248" y="2840" textLength="163" lengthAdjust="spacingAndGlyphs"><tspan class="bd">種 族</tspan>  Tsou</text>
<text class="t h" x="273" y="2897" textLength="756" lengthAdjust="spacingAndGlyphs">部 族  Tapangu (タバグ蕃), Nia-ʔe-utsuna 社, <tspan class="i">Peongsi</tspan> 氏族</text>
</g>
<g id="s164-info">
<text class="t s" x="294" y="2957" textLength="464" lengthAdjust="spacingAndGlyphs">口 述 者  Yapuşuyong-ʔe-<tspan class="i">Peongsi</tspan>  男約 55 歲</text>
<text class="t s" x="294" y="3000" textLength="95" lengthAdjust="spacingAndGlyphs">採 錄 者</text>
<text class="t s" x="500" y="3000">馬</text><text class="t s" x="683" y="3000">淵</text>
<text class="t s" x="294" y="3042" textLength="224" lengthAdjust="spacingAndGlyphs">昭 和 5 年 8 月 10 日</text>
</g>
<g id="n164-moy">
<path class="b" d="M290,3092 Q284,3092 284,3097 V3107 Q284,3111 279,3111 Q284,3111 284,3115 V3125 Q284,3130 290,3130"/>
<text class="t k" x="296" y="3106">生</text><text class="t k" x="296" y="3126">死</text>
<text class="t s" x="324" y="3117" textLength="138" lengthAdjust="spacingAndGlyphs">Tapangu 大社</text>
<text class="t" x="273" y="3164" textLength="184" lengthAdjust="spacingAndGlyphs">Moy-ʔe-<tspan class="i">Peongu</tspan> (m)</text>
<text class="t k" x="345" y="3181">‖</text>
<text class="t" x="299" y="3204" textLength="347" lengthAdjust="spacingAndGlyphs">Faisu 氏族不明 (f) (Tapangu 大社)</text>
</g>
<g id="n164-voy">
<path class="b" d="M739,3112 Q733,3112 733,3117 V3125 Q733,3129 728,3129 Q733,3129 733,3133 V3141 Q733,3146 739,3146"/>
<text class="t k" x="745" y="3126">生</text><text class="t k" x="745" y="3143">死</text>
<text class="t s" x="773" y="3134" textLength="138" lengthAdjust="spacingAndGlyphs">Tapangu 人社</text>
<text class="t" x="722" y="3177" textLength="179" lengthAdjust="spacingAndGlyphs">Voy-ʔe-<tspan class="i">Peongu</tspan> (m)</text>
<text class="t k" x="794" y="3197">‖</text>
<text class="t" x="722" y="3219" textLength="358" lengthAdjust="spacingAndGlyphs">Yangu-ʔe-<tspan class="i">Utsüna</tspan> (f) (Tapangu 大社)</text>
</g>
<g id="n164-koy">
<path class="b" d="M1228,2862 Q1222,2862 1222,2867 V2876 Q1222,2880 1217,2880 Q1222,2880 1222,2884 V2893 Q1222,2898 1228,2898"/>
<text class="t k" x="1234" y="2876">生</text><text class="t k" x="1234" y="2895">死</text>
<text class="t s" x="1259" y="2887" textLength="137" lengthAdjust="spacingAndGlyphs">Tapangu 大社</text>
<text class="t" x="1171" y="2930" textLength="215" lengthAdjust="spacingAndGlyphs">(1) Koy-ʔe-<tspan class="i">Peongu</tspan> (m)</text>
<text class="t k" x="1284" y="2949">‖</text>
<text class="t" x="1207" y="2972" textLength="367" lengthAdjust="spacingAndGlyphs">Yangu-ʔe-<tspan class="i">Utsüna</tspan> (f) (Niaʔeutsuna 社)</text>
</g>
<g id="n164-pasuy">
<path class="b" d="M1228,2997 Q1222,2997 1222,3002 V3011 Q1222,3015 1217,3015 Q1222,3015 1222,3019 V3030 Q1222,3035 1228,3035"/>
<text class="t k" x="1234" y="3011">生</text><text class="t k" x="1234" y="3031">死</text>
<text class="t s" x="1259" y="3023" textLength="137" lengthAdjust="spacingAndGlyphs">Tapangu 大社</text>
<text class="t" x="1176" y="3069" textLength="235" lengthAdjust="spacingAndGlyphs">(2) Pasuy-ʔe-<tspan class="i">Peongsi</tspan> (m)</text>
<text class="t k" x="1284" y="3088">‖</text>
<text class="t" x="1238" y="3110" textLength="403" lengthAdjust="spacingAndGlyphs">Apu-ʔe-<tspan class="i">Noatsatsih-ana</tspan> (f) (Tapangu 大社)</text>
</g>
<g id="n164-apu">
<text class="t" x="1176" y="3152" textLength="215" lengthAdjust="spacingAndGlyphs">(3) Apu-ʔe-<tspan class="i">Peongu</tspan> (f)</text>
<text class="t k" x="1284" y="3172">‖</text>
<text class="t" x="1238" y="3194" textLength="387" lengthAdjust="spacingAndGlyphs">Avay-ʔe-<tspan class="i">Kuʔdatana</tspan> (m) (Niaʔeutsuna 社)</text>
</g>
<g id="n164-peongsi2">
<text class="t" x="1756" y="2706" textLength="241" lengthAdjust="spacingAndGlyphs">(1) Kuʔdat-ʔe-<tspan class="i">Peongsi</tspan> (f)</text>
<text class="t k" x="1861" y="2726">‖</text>
<text class="t" x="1818" y="2748" textLength="447" lengthAdjust="spacingAndGlyphs">Yapuşuyong-ʔe-<tspan class="i">Yuʔdunana</tspan> (m) (Tapangu 大社)</text>
<text class="t" x="1753" y="2791" textLength="349" lengthAdjust="spacingAndGlyphs">(2) Avay-ʔe-<tspan class="i">Peongsi</tspan> (m) (配偶者なし)</text>
<path class="b" d="M1805,2816 Q1799,2816 1799,2821 V2831 Q1799,2835 1794,2835 Q1799,2835 1799,2839 V2849 Q1799,2854 1805,2854"/>
<text class="t k" x="1810" y="2831">生</text><text class="t k" x="1810" y="2850">死</text>
<text class="t s" x="1838" y="2831" textLength="136" lengthAdjust="spacingAndGlyphs">Tapangu 大社</text>
<text class="t s" x="1838" y="2850" textLength="120" lengthAdjust="spacingAndGlyphs">Yoʔfunge 社</text>
<text class="t" x="1753" y="2894" textLength="271" lengthAdjust="spacingAndGlyphs">(3) Tiʔvuşung-ʔe-<tspan class="i">Peongsi</tspan> (m)</text>
<text class="t k" x="1881" y="2914">‖</text>
<text class="t" x="1834" y="2936" textLength="381" lengthAdjust="spacingAndGlyphs">Na-ʔe-<tspan class="i">Yakumangana</tspan> (f) (ʔTsoʔtsosu 社)</text>
<text class="t" x="1753" y="2977" textLength="228" lengthAdjust="spacingAndGlyphs">(4) Inguy-ʔe-<tspan class="i">Peongsi</tspan> (f)</text>
<text class="t k" x="1861" y="2997">‖</text>
<text class="t" x="1813" y="3019" textLength="393" lengthAdjust="spacingAndGlyphs">Voy-ʔe-<tspan class="i">Yakumangana</tspan> (m)*(ʔTsoʔtsosu 社)</text>
<text class="t" x="1753" y="3060" textLength="254" lengthAdjust="spacingAndGlyphs">(5) Akuwan-ʔe-<tspan class="i">Peongsi</tspan> (f)</text>
<text class="t k" x="1861" y="3080">‖</text>
<text class="t" x="1813" y="3102" textLength="393" lengthAdjust="spacingAndGlyphs">Pasuy-ʔe-<tspan class="i">Kuʔdatana</tspan> (m) (Niaʔeutsüna 社)</text>
<path class="b" d="M1805,3128 Q1799,3128 1799,3133 V3143 Q1799,3147 1794,3147 Q1799,3147 1799,3151 V3161 Q1799,3166 1805,3166"/>
<text class="t k" x="1810" y="3142">生</text><text class="t k" x="1810" y="3163">在</text>
<text class="t s" x="1838" y="3142" textLength="143" lengthAdjust="spacingAndGlyphs">Tapangu 大社</text>
<text class="t s" x="1838" y="3163" textLength="143" lengthAdjust="spacingAndGlyphs">Niaʔeutsuna 社</text>
<text class="t bd" x="1753" y="3207" textLength="333" lengthAdjust="spacingAndGlyphs">(6) Yapuşuyong-ʔe-<tspan class="i">Peongsi</tspan> (m)</text>
<text class="t k" x="1920" y="3227">‖</text>
<text class="t" x="1875" y="3248" textLength="427" lengthAdjust="spacingAndGlyphs">Yangu-ʔe-<tspan class="i">Yakumangana</tspan> (f) (Niaʔeutsüna 社)</text>
</g>

<!-- ============ connectors ============ -->
<g id="connectors" class="l">
<!-- 160 -->
<path d="M458,420 H628 V365 H651"/>
<path d="M911,367 H1156"/>
<path d="M1413,369 H1521"/>
<path d="M2001,368 H2011 V459 H226 V645 H253"/>
<path d="M253,532 V748 M253,532 h8 M253,562 h8 M253,592 h8 M253,623 h8 M253,653 h8 M253,687 h8 M253,717 h8 M253,748 h8"/>
<path d="M714,532 H878 M878,515 V545 M878,515 h8 M878,545 h8"/>
<path d="M842,562 H858 V627 H886"/>
<path d="M754,628 H814 V712 H910 M910,680 V740 M910,680 h8 M910,710 h8 M910,740 h8"/>
<path d="M714,750 H882 V797 H910 M910,783 V812 M910,783 h8 M910,812 h8"/>
<path d="M1419,745 H1535 M1535,626 V843 M1535,626 h8 M1535,657 h8 M1535,688 h8 M1535,718 h8 M1535,749 h8 M1535,780 h8 M1535,810 h8 M1535,843 h8"/>
<!-- 161 -->
<path d="M754,1140 H784 V1173 H259 V1242 H333"/>
<path d="M487,1242 H522 V1267 H195 V1344 H217"/>
<path d="M758,1344 H780 V1397 H196 V1428 H208 M208,1428 V1552 M208,1428 h9 M208,1460 h9 M208,1489 h9 M208,1520 h9 M208,1552 h9"/>
<path d="M681,1428 H797 V1177 H842 M842,1162 V1193 M842,1162 h9 M842,1193 h9"/>
<path d="M754,1460 H815 V1309 H842 M842,1260 V1354 M842,1260 h9 M842,1291 h9 M842,1322 h9 M842,1354 h9"/>
<path d="M800,1489 H842 M842,1413 V1505 M842,1413 h9 M842,1444 h9 M842,1473 h9 M842,1505 h9"/>
<path d="M1370,1162 H1409 V965 H1452 M1452,898 V1023 M1452,898 h9 M1452,927 h9 M1452,957 h9 M1452,992 h9 M1452,1023 h9"/>
<path d="M1950,1023 H1958 V1040 H1670 V1067 H1684"/>
<path d="M1370,1354 H1466 V1144 H1491 M1491,1110 V1172 M1491,1110 h9 M1491,1142 h9 M1491,1172 h9"/>
<path d="M1456,1444 H1491 M1491,1213 V1524 M1491,1213 h9 M1491,1244 h9 M1491,1274 h9 M1491,1304 h9 M1491,1335 h9 M1491,1367 h9 M1491,1397 h9 M1491,1429 h9 M1491,1461 h9 M1491,1492 h9 M1491,1524 h9"/>
<path d="M1995,1245 H2024 V1351 H1829 V1476 H1842 M1842,1377 V1563 M1842,1377 h9 M1842,1406 h9 M1842,1436 h9 M1842,1469 h9 M1842,1501 h9 M1842,1533 h9 M1842,1563 h9"/>
<path class="b" d="M2165,1406 H2172 V1436 H2184"/>
<!-- 162 -->
<path d="M379,2048 H885"/>
<path d="M1005,2047 H1104 M1104,2009 V2098 M1104,2009 h10 M1104,2098 h10"/>
<path d="M1593,2010 H1768"/>
<path d="M2066,2012 H2261 V2189 H247 V2242 H262"/>
<path d="M487,2243 H578"/>
<path d="M857,2243 H913"/>
<path d="M1136,2243 H1224"/>
<!-- 163 -->
<path d="M427,2554 H717"/>
<path d="M814,2576 H1161"/>
<path d="M1238,2596 H1595 V2654 H753 V2763 H800"/>
<path d="M886,2779 H1171"/>
<path d="M1299,2940 H1682 V2427 H1733 M1733,2240 V2614 M1733,2240 h10 M1733,2323 h10 M1733,2407 h10 M1733,2447 h10 M1733,2531 h10 M1733,2614 h10"/>
<!-- 164 -->
<path d="M360,3177 H717"/>
<path d="M809,3192 H1044 V3063 H1161 M1151,2923 V3145 M1151,2923 h10 M1151,3145 h10"/>
<path d="M1304,3083 H1705 V2933 H1730 M1730,2699 V3200 M1730,2699 h10 M1730,2784 h10 M1730,2887 h10 M1730,2970 h10 M1730,3053 h10 M1730,3200 h10"/>
</g>

<!-- page number -->
<g id="page-number">
<path class="b" d="M1130,3458 H1215 M1287,3458 H1377"/>
<text class="t" x="1238" y="3468" font-size="28">76</text>
</g>

<!-- watermarks -->
<g id="watermark">
<text class="wm" x="1238" y="1965" font-size="170" textLength="764" lengthAdjust="spacingAndGlyphs">臺灣記憶</text>
<text class="wm" x="1620" y="2062" font-size="52" textLength="370" lengthAdjust="spacingAndGlyphs">Taiwan Memory</text>
<text class="wm" x="933" y="3612" font-size="60" textLength="625" lengthAdjust="spacingAndGlyphs">國家圖書館數位典藏</text>
</g>
</svg>
